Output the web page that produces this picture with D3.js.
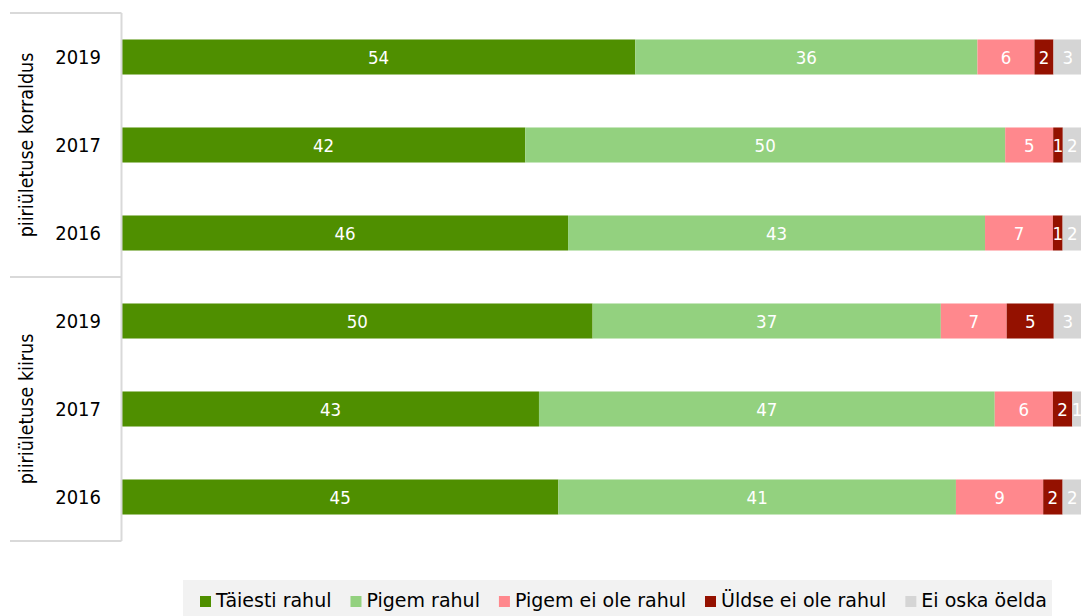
<!DOCTYPE html>
<html>
<head>
<meta charset="utf-8">
<script src="https://cdn.jsdelivr.net/npm/d3@7"></script>
<style>
  body { margin: 0; background: #fff; }
  svg text { font-family: "DejaVu Sans Condensed", "DejaVu Sans", sans-serif; font-stretch: condensed; }
  svg text.wide { font-family: "DejaVu Sans", sans-serif; font-stretch: normal; }
</style>
</head>
<body>
<svg id="chart" width="1081" height="616"></svg>
<script>
// rows, top to bottom
var groups = ["piiriületuse korraldus", "piiriületuse kiirus"];
var years = ["2019", "2017", "2016"];
var series = ["Täiesti rahul", "Pigem rahul", "Pigem ei ole rahul", "Üldse ei ole rahul", "Ei oska öelda"];
var colors = ["#4f8f00", "#93d17f", "#ff888d", "#941100", "#d5d5d5"];

// one array per series, order: korraldus 2019/2017/2016, kiirus 2019/2017/2016
var taiesti = [54, 42, 46, 50, 43, 45];
var pigem = [36, 50, 43, 37, 47, 41];
var pigemEi = [6, 5, 7, 7, 6, 9];
var uldse = [2, 1, 1, 5, 2, 2];
var eiOska = [3, 2, 2, 3, 1, 2];

var seriesVals = [taiesti, pigem, pigemEi, uldse, eiOska];

var rows = [];
groups.forEach(function(g, gi) {
	years.forEach(function(y, yi) {
		var i = gi * years.length + yi;
		var r = { id: g + "|" + y, group: g, year: y };
		series.forEach(function(s, si) { r[s] = seriesVals[si][i]; });
		rows.push(r);
	});
});

var svg = d3.select("#chart");

var TOP = 13, BOTTOM = 541, LEFT = 122, RIGHT = 1082;

var y = d3.scaleBand()
	.domain(rows.map(function(d) { return d.id; }))
	.range([TOP, BOTTOM])
	.paddingInner(0.602)
	.paddingOuter(0.301);

var x = d3.scaleLinear().domain([0, 1]).range([LEFT, RIGHT]);

var color = d3.scaleOrdinal().domain(series).range(colors);

// 100% stacked: each row normalised by its own total
var stacked = d3.stack()
	.keys(series)
	.offset(d3.stackOffsetExpand)(rows);

// bars
var layers = svg.append("g").selectAll("g")
	.data(stacked)
	.enter().append("g")
	.attr("fill", function(d) { return color(d.key); });

layers.selectAll("rect")
	.data(function(d) { return d; })
	.enter().append("rect")
	.attr("x", function(d) { return x(d[0]); })
	.attr("y", function(d) { return y(d.data.id); })
	.attr("width", function(d) { return x(d[1]) - x(d[0]); })
	.attr("height", y.bandwidth());

// value labels
layers.selectAll("text")
	.data(function(d) { return d.map(function(p) { p.key = d.key; return p; }); })
	.enter().append("text")
	.attr("x", function(d) { return (x(d[0]) + x(d[1])) / 2; })
	.attr("y", function(d) { return y(d.data.id) + y.bandwidth() / 2; })
	.attr("dy", "0.36em")
	.attr("text-anchor", "middle")
	.attr("fill", "#fff")
	.attr("font-size", "18.5px")
	.text(function(d) { return d.data[d.key]; });

// category axis
var axisColor = "#d9d9d9";
svg.append("line")
	.attr("x1", LEFT - 0.5).attr("x2", LEFT - 0.5)
	.attr("y1", TOP).attr("y2", BOTTOM)
	.attr("stroke", axisColor).attr("stroke-width", 2);

var groupEdges = [TOP, y(rows[3].id) - y.step() * y.paddingInner() / 2, BOTTOM];
svg.selectAll(".gline")
	.data(groupEdges)
	.enter().append("line")
	.attr("class", "gline")
	.attr("x1", 10).attr("x2", LEFT - 0.5)
	.attr("y1", function(d) { return d; }).attr("y2", function(d) { return d; })
	.attr("stroke", axisColor).attr("stroke-width", 2);

svg.selectAll(".year")
	.data(rows)
	.enter().append("text")
	.attr("class", "year")
	.attr("x", 101)
	.attr("y", function(d) { return y(d.id) + y.bandwidth() / 2; })
	.attr("dy", "0.36em")
	.attr("text-anchor", "end")
	.attr("font-size", "20px")
	.attr("fill", "#000")
	.text(function(d) { return d.year; });

svg.selectAll(".group")
	.data(groups)
	.enter().append("text")
	.attr("class", "group")
	.attr("transform", function(d, i) {
		var cy = (groupEdges[i] + groupEdges[i + 1]) / 2;
		return "translate(26," + cy + ") rotate(-90)";
	})
	.attr("dy", "0.36em")
	.attr("text-anchor", "middle")
	.attr("font-size", "19.5px")
	.attr("fill", "#000")
	.text(function(d) { return d; });

// legend
var legend = svg.append("g");
legend.append("rect")
	.attr("x", 183).attr("y", 580)
	.attr("width", 869).attr("height", 40)
	.attr("fill", "#f2f2f2");

var lx = 200;
series.forEach(function(s) {
	legend.append("rect")
		.attr("x", lx).attr("y", 596)
		.attr("width", 11).attr("height", 11)
		.attr("fill", color(s));
	var t = legend.append("text")
		.attr("class", "wide")
		.attr("x", lx + 16).attr("y", 607)
		.attr("font-size", "19px")
		.attr("fill", "#000")
		.text(s);
	lx += 16 + t.node().getComputedTextLength() + 19;
});
</script>
</body>
</html>
